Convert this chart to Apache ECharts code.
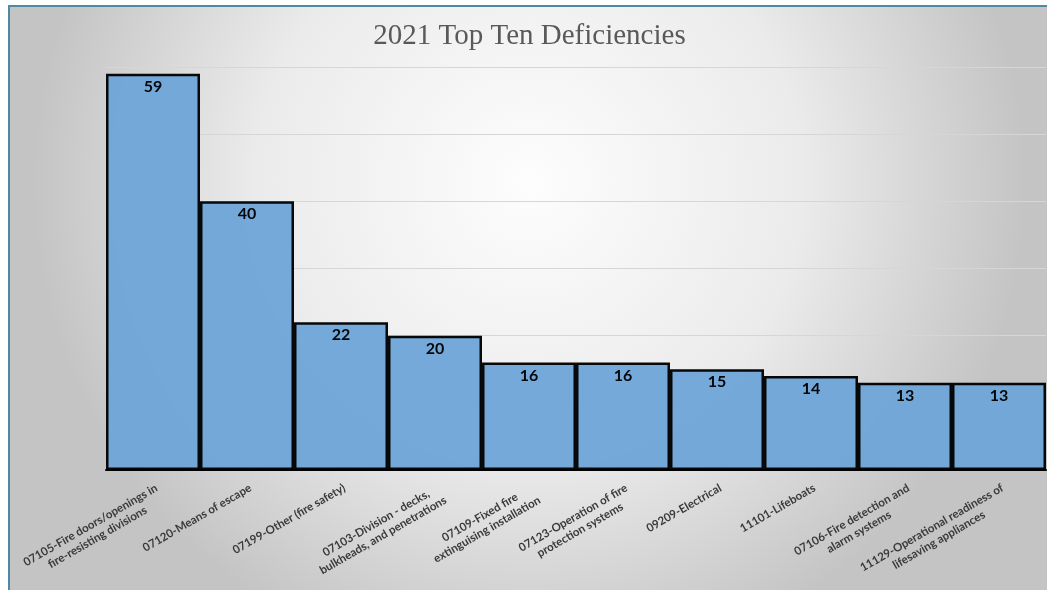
<!DOCTYPE html>
<html><head><meta charset="utf-8">
<script src="https://cdn.jsdelivr.net/npm/echarts@6/dist/echarts.min.js"></script>
<style>
html,body{margin:0;padding:0;background:#fff;width:1047px;height:590px;overflow:hidden;}
#frame{position:absolute;left:8px;top:5px;width:1041px;height:587px;border-left:2px solid #4e8aa3;border-top:2px solid #4e8aa3;}
#c{width:1039px;height:585px;}
</style></head><body>
<div id="frame"><div id="c"></div></div>
<script>
const titleText = '2021 Top Ten Deficiencies';
const categories = [
  '07105-Fire doors/openings in\nfire-resisting divisions',
  '07120-Means of escape',
  '07199-Other (fire safety)',
  '07103-Division - decks,\nbulkheads, and penetrations',
  '07109-Fixed fire\nextinguising installation',
  '07123-Operation of fire\nprotection systems',
  '09209-Electrical',
  '11101-Lifeboats',
  '07106-Fire detection and\nalarm systems',
  '11129-Operational readiness of\nlifesaving appliances'
];
const values = [59, 40, 22, 20, 16, 16, 15, 14, 13, 13];
const yMin = 0, yMax = 60, yInterval = 10;

const chart = echarts.init(document.getElementById('c'));
chart.setOption({
  backgroundColor: {
    type: 'radial', x: 0.5, y: 0.3, r: 0.85,
    colorStops: [{offset: 0, color: '#fdfdfd'}, {offset: 0.55, color: '#ebebeb'}, {offset: 1, color: '#c4c4c4'}]
  },
  title: {
    text: titleText, left: 'center', top: 10,
    textStyle: {fontFamily: 'Liberation Serif', fontWeight: 'normal', fontSize: 29, color: '#595959'}
  },
  grid: {left: 96, right: 3, top: 60, bottom: 122},
  xAxis: {
    type: 'category', data: categories,
    axisLine: {show: true, lineStyle: {color: '#000', width: 2}},
    axisTick: {show: false},
    axisLabel: {
      interval: 0, rotate: 30, margin: 11, verticalAlign: 'top',
      formatter: v => v.split('\n').map(s => '{a|' + s + '}').join('\n'),
      rich: {a: {align: 'center', fontFamily: 'Lato', fontWeight: 'bold', fontSize: 11.5, color: '#3a3a3a', lineHeight: 14}}
    }
  },
  yAxis: {
    type: 'value', min: yMin, max: yMax, interval: yInterval,
    axisLabel: {show: false}, axisLine: {show: false}, axisTick: {show: false},
    splitLine: {lineStyle: {color: '#d6d6d6', width: 1}}
  },
  series: [{
    type: 'bar', data: values, barCategoryGap: '0%',
    itemStyle: {color: '#6fa5d7', borderColor: '#000', borderWidth: 2.5, opacity: 0.96},
    label: {show: true, position: 'insideTop', distance: 5, fontFamily: 'Lato', fontWeight: 'bold', fontSize: 16, color: '#000'}
  }]
});
</script></body></html>
